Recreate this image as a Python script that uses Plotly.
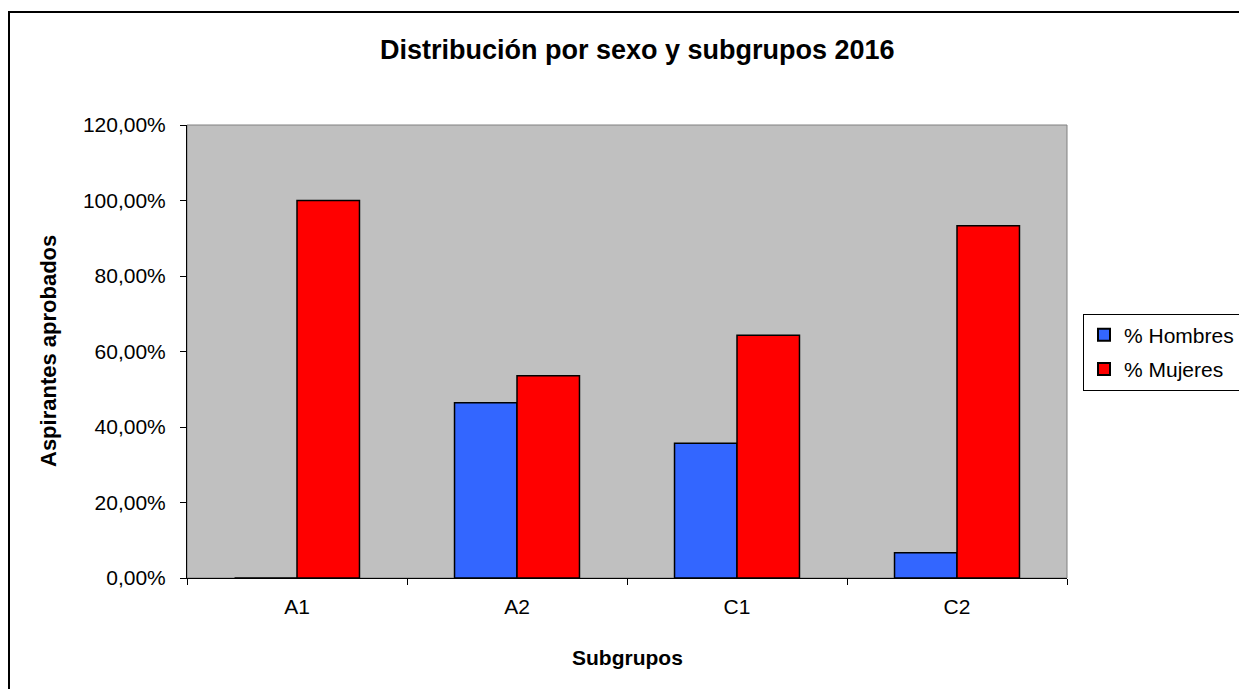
import plotly.graph_objects as go

categories = ["A1", "A2", "C1", "C2"]
hombres = [0.0, 46.43, 35.71, 6.67]
mujeres = [100.0, 53.57, 64.29, 93.33]
series_names = ["% Hombres", "% Mujeres"]
y_tickvals = [0, 20, 40, 60, 80, 100, 120]
y_ticktext = ["0,00%", "20,00%", "40,00%", "60,00%", "80,00%", "100,00%", "120,00%"]

FONT = "Liberation Sans, Arial, sans-serif"

fig = go.Figure()
fig.add_trace(go.Bar(x=categories, y=hombres, name=series_names[0],
                     marker=dict(color="#3366FF", line=dict(color="black", width=1.5)),
                     legendgroup="h"))
fig.add_trace(go.Bar(x=categories, y=mujeres, name=series_names[1],
                     marker=dict(color="#FF0000", line=dict(color="black", width=1.5)),
                     legendgroup="m"))

# page offset of 8px (body margin)
OFF = 8
PL, PR, PT, PB = 187, 1067, 125, 578  # plot area in page px
W, H = 1239, 681
L, T = PL - OFF, PT - OFF
PW, PH = PR - PL, PB - PT
R = W - L - PW
B = H - T - PH

def px(x):
    return (x - PL) / PW

def py(y):
    return (PB - y) / PH

fig.update_layout(
    width=W, height=H,
    margin=dict(l=L, r=R, t=T, b=B, pad=0, autoexpand=False),
    paper_bgcolor="white",
    plot_bgcolor="#C0C0C0",
    font=dict(family=FONT, size=21, color="black"),
    barmode="group",
    bargap=0.432,
    bargroupgap=0,
    showlegend=True,
    legend=dict(x=px(1083), xanchor="left", y=py(352), yanchor="middle",
                bordercolor="black", borderwidth=1, bgcolor="white",
                font=dict(family=FONT, size=21, color="black"),
                tracegroupgap=4, itemsizing="constant"),
    xaxis=dict(showline=True, linecolor="black", linewidth=1,
               ticks="outside", tickson="boundaries", ticklen=6, tickcolor="black",
               showgrid=False, zeroline=False, ticklabelstandoff=10,
               tickfont=dict(family=FONT, size=21, color="black")),
    yaxis=dict(range=[0, 120], tickvals=y_tickvals, ticktext=y_ticktext,
               showline=True, linecolor="black", linewidth=1,
               ticks="outside", ticklen=6, tickcolor="black",
               showgrid=False, zeroline=False, ticklabelstandoff=10,
               tickfont=dict(family=FONT, size=21, color="black")),
    shapes=[
        dict(type="rect", xref="paper", yref="paper", x0=0, x1=1, y0=0, y1=1,
             line=dict(color="#808080", width=1), layer="below"),
        dict(type="rect", xref="paper", yref="paper",
             x0=px(9), x1=px(1300), y0=py(720), y1=py(12),
             line=dict(color="black", width=2), layer="above"),
    ],
    annotations=[
        dict(text="<b>Distribución por sexo y subgrupos 2016</b>", xref="paper", yref="paper",
             x=px(637), y=py(50), showarrow=False, xanchor="center", yanchor="middle",
             font=dict(family=FONT, size=27, color="black")),
        dict(text="<b>Aspirantes aprobados</b>", xref="paper", yref="paper",
             x=px(48), y=py(351), showarrow=False, textangle=-90,
             xanchor="center", yanchor="middle",
             font=dict(family=FONT, size=22, color="black")),
        dict(text="<b>Subgrupos</b>", xref="paper", yref="paper",
             x=px(627), y=py(657), showarrow=False, xanchor="center", yanchor="middle",
             font=dict(family=FONT, size=21, color="black")),
    ],
)

fig.write_html("out.html")
